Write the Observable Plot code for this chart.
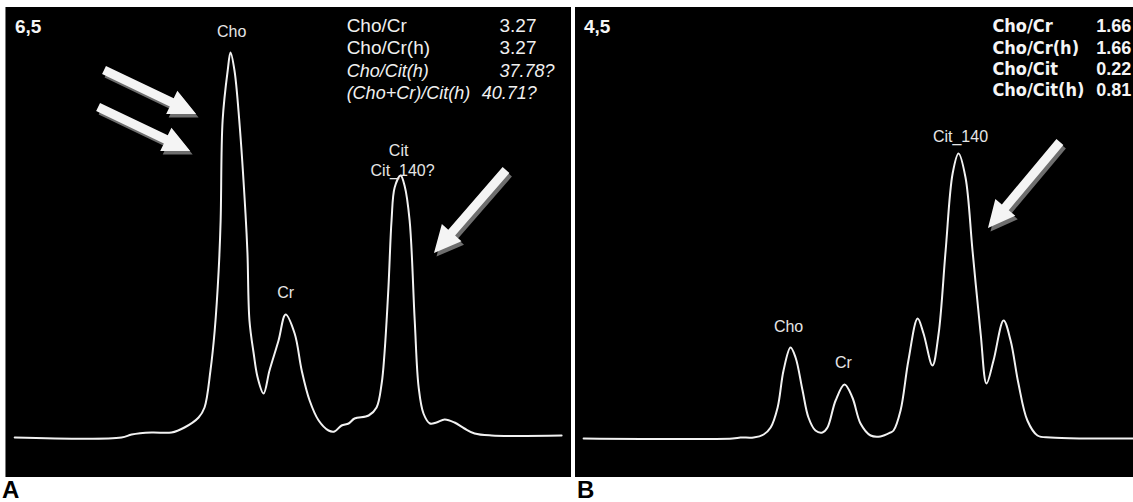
<!DOCTYPE html>
<html><head><meta charset="utf-8">
<script src="https://cdn.jsdelivr.net/npm/d3@7"></script>
<script src="https://cdn.jsdelivr.net/npm/@observablehq/plot@0.6"></script>
<style>
html,body{margin:0;padding:0;background:#fff;width:1133px;height:502px;overflow:hidden;}
body{position:relative;font-family:"Liberation Sans",Arial,sans-serif}
.panel{position:absolute;top:7px;background:#000;line-height:0}
.lab{position:absolute;top:478px;font:bold 24px/24px "Liberation Sans",Arial,sans-serif;color:#000}
</style></head><body>
<div id="a" class="panel" style="left:5px;border-left:1px solid #777"></div>
<div id="b" class="panel" style="left:575px"></div>
<div class="lab" style="left:2px">A</div>
<div class="lab" style="left:577px">B</div>
<script>
// ---------- Panel A spectrum (chemical shift ppm, intensity a.u.) ----------
const ppmA = [3.966,3.588,3.552,3.481,3.411,3.365,3.315,3.294,3.273,3.258,3.244,3.237,3.230,3.212,3.202,3.188,3.171,3.149,3.142,3.135,3.120,3.106,3.085,3.064,3.032,3.007,2.975,2.950,2.922,2.890,2.855,2.834,2.809,2.784,2.763,2.713,2.685,2.667,2.657,2.643,2.632,2.621,2.600,2.586,2.568,2.550,2.536,2.519,2.496,2.473,2.444,2.409,2.374,2.338,2.278,2.030];
const intA = [0,0,3,5,5,10,20,30,67,107,167,217,317,367,385,367,317,224,184,117,84,60,44,67,97,123,104,67,37,17,7,6,12,14,19,22,30,54,84,150,217,250,262,252,217,117,50,24,14,15,18,15,9,4,2,2];

// ---------- Panel B spectrum ----------
const ppmB = [3.939,3.407,3.379,3.332,3.296,3.271,3.246,3.225,3.200,3.182,3.157,3.136,3.111,3.086,3.068,3.039,3.007,2.979,2.950,2.914,2.879,2.843,2.832,2.807,2.779,2.746,2.725,2.693,2.671,2.646,2.621,2.600,2.575,2.550,2.521,2.500,2.475,2.439,2.414,2.386,2.354,2.318,2.271,2.146,1.975];
const intB = [-1,-1,0,0,3,10,30,67,90,80,47,20,7,5,10,37,53,40,14,2,1,5,7,27,77,119,104,72,104,187,264,284,260,187,104,54,77,117,97,54,17,2,0,-1,-1];

// ---------- Labels ----------
const scanA = "6,5", scanB = "4,5";
const peakLabelsA = ["Cho","Cr","Cit","Cit_140?"];
const peakPpmA = [3.198,3.007,2.607,2.593];
const peakIntA = [406,145,287,267];
const peakLabelsB = ["Cho","Cr","Cit_140"];
const peakPpmB = [3.207,3.011,2.593];
const peakIntB = [111,75,301];

// ratio tables
const ratioNamesA = ["Cho/Cr","Cho/Cr(h)","Cho/Cit(h)","(Cho+Cr)/Cit(h)"];
const ratioValsA = ["3.27","3.27","37.78?","40.71?"];
const ratioItalicA = [false,false,true,true];
const ratioNamesB = ["Cho/Cr","Cho/Cr(h)","Cho/Cit","Cho/Cit(h)"];
const ratioValsB = ["1.66","1.66","0.22","0.81"];

// arrows (tail -> tip), in ppm / intensity
const arrowTailPpmA = [3.648,3.669,2.225];
const arrowTailIntA = [367,330,267];
const arrowTipPpmA  = [3.322,3.343,2.480];
const arrowTipIntA  = [323,286,184];
const arrowTailPpmB = [2.236];
const arrowTailIntB = [295];
const arrowTipPpmB  = [2.493];
const arrowTipIntB  = [209];

// ---------- helpers ----------
function blockArrows(tx, ty, hx, hy) {
  return (index, scales) => {
    const g = d3.create("svg:g");
    for (let i = 0; i < tx.length; i++) {
      const x1 = scales.x(tx[i]), y1 = scales.y(ty[i]);
      const x2 = scales.x(hx[i]), y2 = scales.y(hy[i]);
      const L = Math.hypot(x2 - x1, y2 - y1);
      const ux = (x2 - x1) / L, uy = (y2 - y1) / L;
      const nx = -uy, ny = ux;
      const w = 4.5, h = 13, hl = 27;
      const bx = x2 - ux * hl, by = y2 - uy * hl;
      const pts = [
        [x1 + nx * w, y1 + ny * w],
        [bx + nx * w, by + ny * w],
        [bx + nx * h, by + ny * h],
        [x2, y2],
        [bx - nx * h, by - ny * h],
        [bx - nx * w, by - ny * w],
        [x1 - nx * w, y1 - ny * w]
      ];
      const d = "M" + pts.map(p => p.join(",")).join("L") + "Z";
      g.append("path").attr("d", d).attr("fill", "#6e6e6e").attr("transform", "translate(2.5,3.5)");
      g.append("path").attr("d", d).attr("fill", "#f4f4f4");
    }
    return g.node();
  };
}

function panel({ppm, inten, domainX, width, scan, peakLabels, peakPpm, peakInt, table, arrows}) {
  const spec = ppm.map((p, i) => ({ppm: p, v: inten[i]}));
  const peaks = peakLabels.map((t, i) => ({t, x: peakPpm[i], y: peakInt[i]}));
  return Plot.plot({
    width, height: 470,
    margin: 0,
    x: {domain: domainX, axis: null},
    y: {domain: [-40, 430], axis: null},
    style: {background: "#000", overflow: "visible"},
    marks: [
      Plot.line(spec, {x: "ppm", y: "v", stroke: "#f2f2f2", strokeWidth: 2, curve: "catmull-rom"}),
      arrows,
      Plot.text([scan], {x: domainX[0] - 0.03, y: 411, text: d => d, textAnchor: "start",
        fill: "#f5f5f5", fontSize: 19, fontWeight: "bold", fontFamily: "Liberation Sans, Arial, sans-serif"}),
      Plot.text(peaks, {x: "x", y: "y", text: "t", fill: "#e6e6e6", fontSize: 16,
        fontFamily: "Liberation Sans, Arial, sans-serif"}),
      ...table
    ]
  });
}

// Panel A table marks
const rowsA = ratioNamesA.map((n, i) => ({n, v: ratioValsA[i], it: ratioItalicA[i], y: [412,390,366,344][i], vx: [2.250,2.250,2.250,2.313][i]}));
const fontA = "Liberation Sans, Arial, sans-serif";
const tableA = [
  Plot.text(rowsA.filter(r => !r.it), {x: 2.791, y: "y", text: "n", textAnchor: "start", fill: "#f0f0f0", fontSize: 19, fontFamily: fontA}),
  Plot.text(rowsA.filter(r => r.it), {x: 2.791, y: "y", text: "n", textAnchor: "start", fill: "#f0f0f0", fontSize: 18, fontStyle: "italic", fontFamily: fontA}),
  Plot.text(rowsA.filter(r => !r.it), {x: "vx", y: "y", text: "v", textAnchor: "start", fill: "#f0f0f0", fontSize: 19, fontFamily: fontA}),
  Plot.text(rowsA.filter(r => r.it), {x: "vx", y: "y", text: "v", textAnchor: "start", fill: "#f0f0f0", fontSize: 18, fontStyle: "italic", fontFamily: fontA})
];

const rowsB = ratioNamesB.map((n, i) => ({n, v: ratioValsB[i], y: [411,389,368,347][i]}));
const tableB = [
  Plot.text(rowsB, {x: 2.479, y: "y", text: "n", textAnchor: "start", fill: "#f5f5f5", fontSize: 18, fontWeight: "bold",
    fontFamily: "Liberation Sans Narrow, DejaVu Sans Condensed, Arial Narrow, sans-serif"}),
  Plot.text(rowsB, {x: 2.108, y: "y", text: "v", textAnchor: "start", fill: "#f5f5f5", fontSize: 18, fontWeight: "bold",
    fontFamily: "Liberation Sans, Arial, sans-serif"})
];

document.getElementById("a").append(panel({
  ppm: ppmA, inten: intA, domainX: [3.995, 1.995], width: 565, scan: scanA,
  peakLabels: peakLabelsA, peakPpm: peakPpmA, peakInt: peakIntA, table: tableA,
  arrows: blockArrows(arrowTailPpmA, arrowTailIntA, arrowTipPpmA, arrowTipIntA)
}));
document.getElementById("b").append(panel({
  ppm: ppmB, inten: intB, domainX: [3.968, 1.975], width: 558, scan: scanB,
  peakLabels: peakLabelsB, peakPpm: peakPpmB, peakInt: peakIntB, table: tableB,
  arrows: blockArrows(arrowTailPpmB, arrowTailIntB, arrowTipPpmB, arrowTipIntB)
}));
</script>
</body></html>
